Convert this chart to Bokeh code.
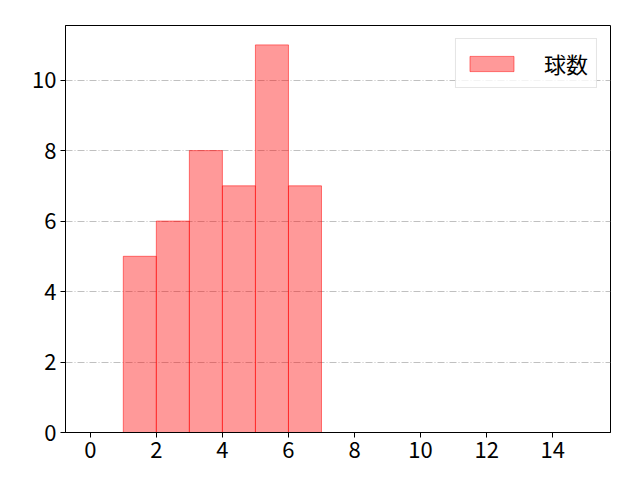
from bokeh.plotting import figure
from bokeh.models import Range1d, FixedTicker
from bokeh.embed import file_html
from bokeh.resources import INLINE

bin_left = [1, 2, 3, 4, 5, 6]
bin_right = [2, 3, 4, 5, 6, 7]
counts = [5, 6, 8, 7, 11, 7]
x_ticks = [0, 2, 4, 6, 8, 10, 12, 14]
y_ticks = [0, 2, 4, 6, 8, 10]
label = "球数"

FONT = "Noto Sans CJK JP"

p = figure(width=640, height=480, output_backend="svg", toolbar_location=None,
           x_range=Range1d(-0.75, 15.75), y_range=Range1d(0, 11.55),
           min_border_left=65, min_border_right=30, min_border_top=25, min_border_bottom=48)

p.quad(left=bin_left, right=bin_right, bottom=0, top=counts,
       fill_color="#ff0000", fill_alpha=0.4, line_color="#ff0000", line_alpha=0.5,
       line_width=1, legend_label=label)

p.xgrid.visible = False
p.ygrid.grid_line_color = "#b0b0b0"
p.ygrid.grid_line_dash = "7 2 1 2"
p.ygrid.grid_line_width = 0.8

p.outline_line_color = "black"
p.outline_line_width = 1
p.outline_line_alpha = 1

for ax, ticks in ((p.xaxis, x_ticks), (p.yaxis, y_ticks)):
    ax.ticker = FixedTicker(ticks=ticks)
    ax.minor_tick_line_color = None
    ax.major_tick_out = 5
    ax.major_tick_in = 0
    ax.major_label_text_font = FONT
    ax.major_label_text_font_size = "22px"
    ax.major_label_text_color = "black"
    ax.axis_line_color = "black"
    ax.major_tick_line_color = "black"
    ax.major_label_standoff = 4

p.legend.location = "top_right"
p.legend.margin = 13
p.legend.label_text_font = FONT
p.legend.label_text_font_size = "22px"
p.legend.label_text_color = "black"
p.legend.border_line_color = "#cccccc"
p.legend.border_line_width = 1
p.legend.padding = 8
p.legend.glyph_width = 55
p.legend.glyph_height = 19
p.legend.label_standoff = 25
p.legend.label_height = 26
p.legend.background_fill_alpha = 0.8

open("out.html", "w").write(file_html(p, INLINE))
